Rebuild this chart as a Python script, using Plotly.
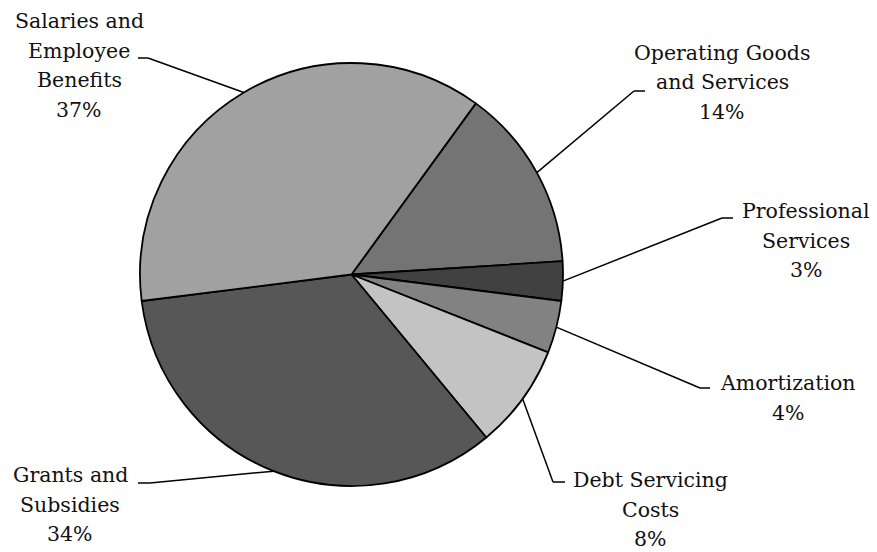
import math
import plotly.graph_objects as go

# Expenditure breakdown (percent of total), listed clockwise
categories = [
    "Operating Goods<br>and Services",
    "Professional<br>Services",
    "Amortization",
    "Debt Servicing<br>Costs",
    "Grants and<br>Subsidies",
    "Salaries and<br>Employee<br>Benefits",
]
shares = [14, 3, 4, 8, 34, 37]
slice_colors = ["#747474", "#414141", "#828282", "#c3c3c3", "#575757", "#a1a1a1"]

W, H = 877, 552
CX, CY, R = 351.5, 274.5, 211.5
START = 36.0  # degrees clockwise from 12 o'clock where the first slice begins
LINE_PITCH = 29.5
FONT = dict(family="DejaVu Serif", size=20.5, color="#111111")


def px(x, y):
    return x / W, 1 - y / H


fig = go.Figure(
    go.Pie(
        labels=categories,
        values=shares,
        sort=False,
        direction="clockwise",
        rotation=START,
        textinfo="none",
        hoverinfo="label+percent",
        marker=dict(colors=slice_colors, line=dict(color="#000000", width=1.8)),
        domain=dict(
            x=[(CX - R) / W, (CX + R) / W],
            y=[1 - (CY + R) / H, 1 - (CY - R) / H],
        ),
        showlegend=False,
    )
)

# Leader-line bends, tick ends and first-line label centres (pixels)
elbows = [(634, 91), (722, 218), (700, 388), (553, 482), (150, 483), (148, 58)]
ticks = [(645, 91), (733, 218), (710, 388), (565, 482), (138, 483), (138, 58)]
label_pos = [(722, 52), (806, 210), (788, 382), (650, 479), (70, 474), (79, 20)]

total = sum(shares)
acc = 0.0
for i, v in enumerate(shares):
    mid = START + 360.0 * (acc + v / 2) / total
    acc += v
    a = math.radians(mid)
    ex, ey = CX + R * math.sin(a), CY - R * math.cos(a)
    bx, by = elbows[i]
    tx, ty = ticks[i]
    for (x0, y0), (x1, y1) in (((ex, ey), (bx, by)), ((bx, by), (tx, ty))):
        p0, p1 = px(x0, y0), px(x1, y1)
        fig.add_shape(
            type="line", xref="paper", yref="paper",
            x0=p0[0], y0=p0[1], x1=p1[0], y1=p1[1],
            line=dict(color="#000000", width=1.5),
        )
    pct = round(100 * v / total)
    lines = categories[i].split("<br>") + [f"{pct}%"]
    lx, ly0 = label_pos[i]
    for k, line in enumerate(lines):
        ax, ay = px(lx, ly0 + k * LINE_PITCH + 1)
        fig.add_annotation(
            x=ax, y=ay, xref="paper", yref="paper",
            text=line, showarrow=False,
            xanchor="center", yanchor="middle", align="center",
            font=FONT,
        )

fig.update_layout(
    width=W, height=H,
    margin=dict(l=0, r=0, t=0, b=0),
    paper_bgcolor="#ffffff",
    plot_bgcolor="#ffffff",
)

fig.write_html("out.html")
